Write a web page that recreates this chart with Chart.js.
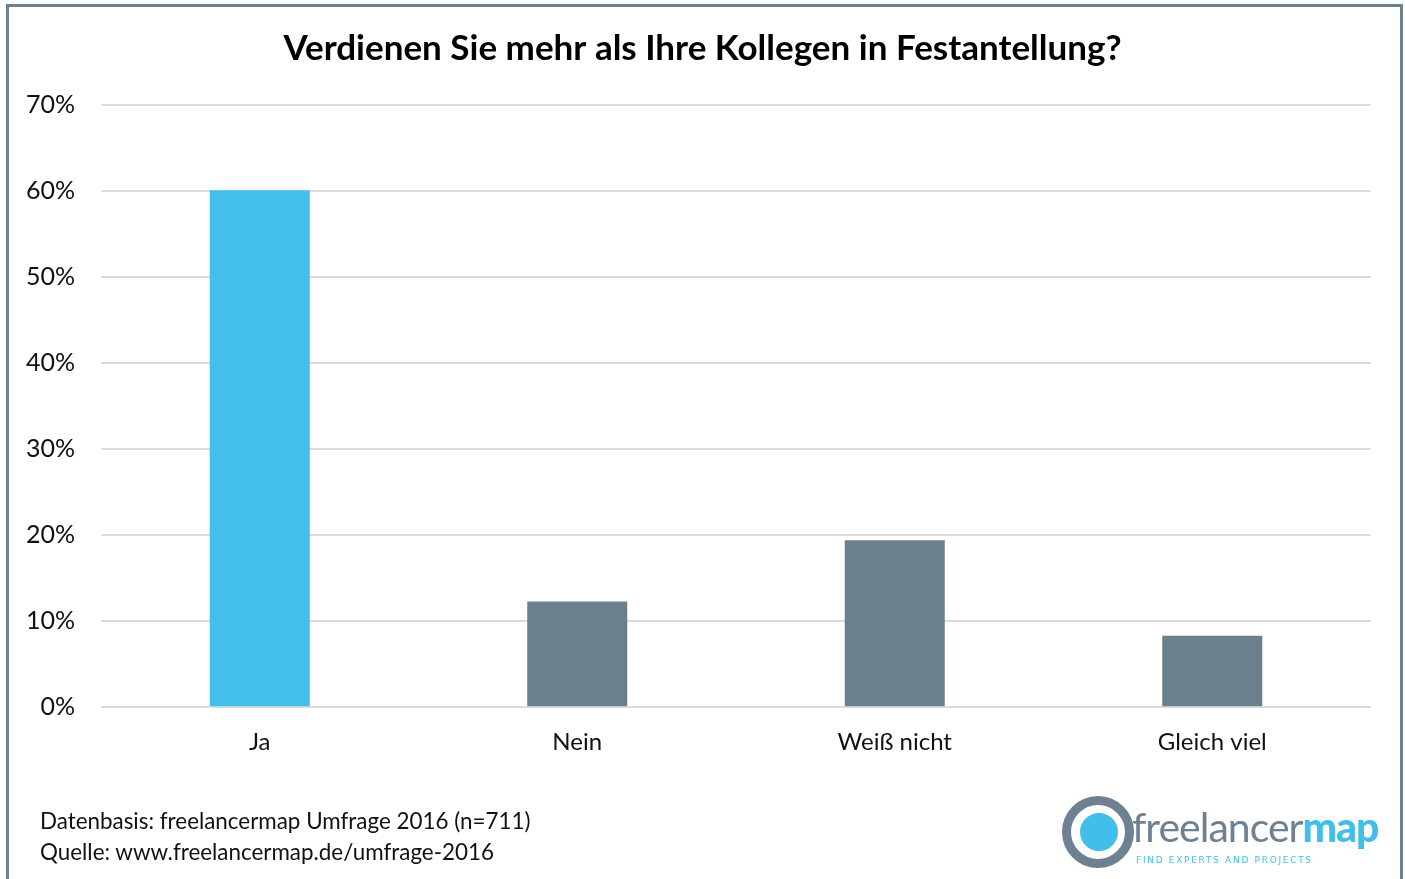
<!DOCTYPE html>
<html>
<head>
<meta charset="utf-8">
<script src="https://cdn.jsdelivr.net/npm/chart.js@4.4.1/dist/chart.umd.min.js"></script>
<style>
  html, body { margin: 0; padding: 0; background: #fff; overflow: hidden; }
  #wrap { position: relative; width: 1405px; height: 879px; }
  #frame { position: absolute; left: 6px; top: 4px; width: 1397px; height: 900px; border: 3px solid #6d8193; box-sizing: border-box; }
  #chart { position: absolute; left: 0; top: 0; }
  .foot { position: absolute; left: 40px; font-family: Lato, "Open Sans", sans-serif; font-size: 22.4px; color: #111; }
  #logo { position: absolute; left: 1060px; top: 795px; width: 330px; height: 75px; }
  #ring { position: absolute; left: 2px; top: 1px; width: 54px; height: 54px; border: 9px solid #6d8193; border-radius: 50%; }
  #dot { position: absolute; left: 17px; top: 15px; width: 44px; height: 44px; background: #41bfea; border-radius: 50%; border: 3px solid #fff; box-sizing: border-box; }
  #brand { position: absolute; left: 72px; top: 7px; font-family: Lato, sans-serif; font-size: 41px; letter-spacing: -1px; color: #6d8193; }
  #brand b { color: #41bfea; font-weight: 900; }
  #tag { position: absolute; left: 76px; top: 60px; font-family: "DejaVu Sans", sans-serif; font-size: 9px; letter-spacing: 1.7px; color: #41bfea; }
</style>
</head>
<body>
<div id="wrap">
  <canvas id="chart" width="1405" height="879"></canvas>
  <div id="frame"></div>
  <div class="foot" style="top:807px">Datenbasis: freelancermap Umfrage 2016 (n=711)</div>
  <div class="foot" style="top:838px">Quelle: www.freelancermap.de/umfrage-2016</div>
  <div id="logo">
    <div id="ring"></div>
    <div id="dot"></div>
    <div id="brand">freelancer<b>map</b></div>
    <div id="tag">FIND EXPERTS AND PROJECTS</div>
  </div>
</div>
<script>
// survey answers and share of respondents (%)
const categories = ['Ja', 'Nein', 'Weiß nicht', 'Gleich viel'];
const shares = [60.1, 12.3, 19.4, 8.3];
const barColors = ['#42c0eb', '#6c7f8c', '#6c7f8c', '#6c7f8c'];
const yTicks = [0, 10, 20, 30, 40, 50, 60, 70];

const fontFamily = 'Lato, "Open Sans", sans-serif';

const ctx = document.getElementById('chart').getContext('2d');
const chart = new Chart(ctx, {
    type: 'bar',
    data: {
        labels: categories,
        datasets: [{
            data: shares,
            backgroundColor: barColors,
            borderWidth: 0,
            categoryPercentage: 1,
            barPercentage: 0.315
        }]
    },
    options: {
        responsive: false,
        animation: false,
        layout: {
            padding: { left: 0, right: 0, top: 0, bottom: 101 }
        },
        plugins: {
            legend: { display: false },
            tooltip: { enabled: false },
            title: {
                display: true,
                text: 'Verdienen Sie mehr als Ihre Kollegen in Festantellung?',
                color: '#000',
                font: { family: fontFamily, size: 35, weight: 'bold' },
                padding: { top: 28, bottom: 35 }
            }
        },
        scales: {
            y: {
                min: 0,
                max: 70,
                afterBuildTicks: (scale) => {
                    scale.ticks = yTicks.map(v => ({ value: v }));
                },
                afterFit: (scale) => { scale.width = 101; },
                border: { display: false },
                grid: { color: '#dcdcdc', lineWidth: 2, drawTicks: false },
                ticks: {
                    padding: 26,
                    color: '#111',
                    font: { family: fontFamily, size: 25 },
                    callback: (v) => v + '%'
                }
            },
            // empty right axis, only keeps the right margin so the title stays centred
            spacer: {
                position: 'right',
                afterFit: (scale) => { scale.width = 34; },
                border: { display: false },
                grid: { display: false, drawTicks: false },
                ticks: { display: false }
            },
            x: {
                border: { display: false },
                grid: { display: false, drawTicks: false },
                ticks: {
                    padding: 21,
                    color: '#111',
                    font: { family: fontFamily, size: 24 }
                }
            }
        }
    }
});
</script>
</body>
</html>
